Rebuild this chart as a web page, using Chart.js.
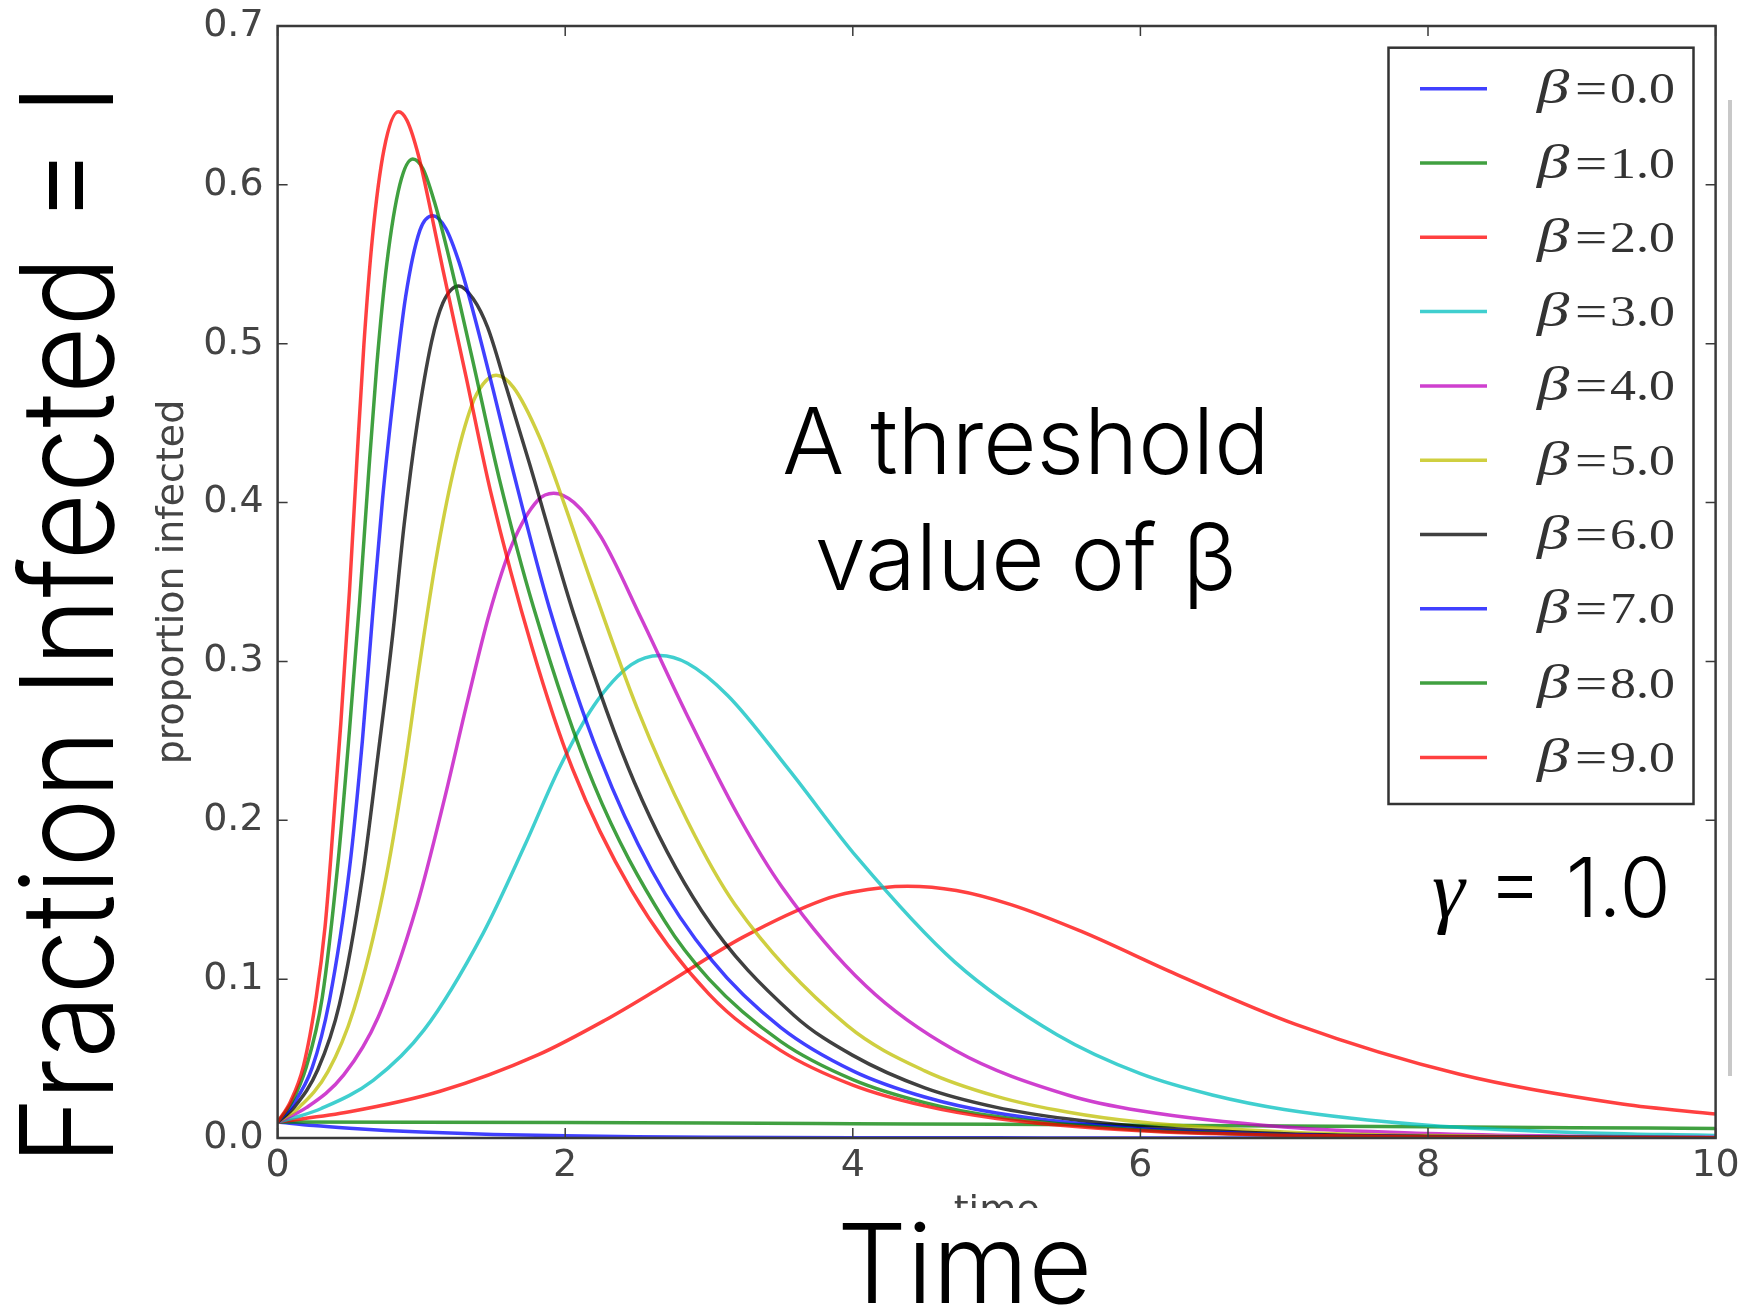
<!DOCTYPE html>
<html>
<head>
<meta charset="utf-8">
<script src="https://cdn.jsdelivr.net/npm/chart.js"></script>
<style>
  html, body { margin: 0; padding: 0; background: #fff; }
  #page { position: relative; width: 1739px; height: 1313px; overflow: hidden; background: #fff; }
  #sir { position: absolute; left: 0; top: 0; }
  .slide { position: absolute; font-family: Inter, "Helvetica Neue", Lato, sans-serif; font-weight: 300; color: #000; line-height: 1; white-space: nowrap; }
  #ylabel { left: 2px; top: 1165px; font-size: 129px; transform-origin: 0 0; }
  #xlabel { left: 833px; top: 1208px; font-size: 110px; background: #fff; padding: 0 4px; }
  #note { left: 776px; top: 383px; width: 500px; text-align: center; font-size: 92px; line-height: 116px; }
  #gamma { left: 1432px; top: 846px; font-size: 83px; }
  #gamma i { font-family: "Liberation Serif", serif; }
  #edge { position: absolute; left: 1728px; top: 100px; width: 4px; height: 976px; background: #c8c8c8; }
</style>
</head>
<body>
<div id="page">
  <canvas id="sir" width="1739" height="1313"></canvas>
  <div id="edge"></div>
  <div class="slide" id="ylabel">Fraction Infected = I</div>
  <div class="slide" id="note">A threshold<br>value of β</div>
  <div class="slide" id="gamma"><i>γ</i> = 1.0</div>
  <div class="slide" id="xlabel">Time</div>
</div>
<script>
// beta values of the ten curves (gamma = 1.0)
const betas = [0, 1, 2, 3, 4, 5, 6, 7, 8, 9];
// matplotlib classic colour cycle b g r c m y k
const lineColors = [
  "rgba(0,0,255,0.75)", "rgba(0,128,0,0.75)", "rgba(255,0,0,0.75)",
  "rgba(0,191,191,0.75)", "rgba(191,0,191,0.75)", "rgba(191,191,0,0.75)",
  "rgba(0,0,0,0.75)", "rgba(0,0,255,0.75)", "rgba(0,128,0,0.75)",
  "rgba(255,0,0,0.75)",
];

//time points and proportion infected
const t0 = [0, 0.25, 0.5, 0.75, 1, 1.5, 2, 2.5, 3, 4, 5, 6, 8, 10];
const i0 = [0.01, 0.0078, 0.0061, 0.0047, 0.0037, 0.0022, 0.0014, 0.0008, 0.0005, 0.0002, 0.0001, 0, 0, 0];

const t1 = [0, 1, 2, 3, 4, 5, 6, 7, 8, 9, 10];
const i1 = [0.01, 0.0099, 0.0097, 0.0094, 0.009, 0.0086, 0.0081, 0.0076, 0.0071, 0.0065, 0.006];

const t2 = [0, 0.5, 1.13, 1.81, 2.27, 2.64, 3.24, 3.8, 4.0, 4.38, 4.72, 5.1, 5.59, 6.25, 7.08, 8.22, 9.35, 10];
const i2 = [0.01, 0.0165, 0.0294, 0.0523, 0.0738, 0.0935, 0.1266, 0.1501, 0.1549, 0.1585, 0.1558, 0.1469, 0.13, 0.103, 0.0715, 0.0401, 0.0214, 0.0151];

const t3 = [0, 0.15, 0.3, 0.665, 1.02, 1.43, 1.72, 1.96, 2.2, 2.46, 2.66, 2.85, 3.13, 3.55, 4.03, 4.71, 5.42, 6, 6.5, 7, 8, 9, 10];
const i3 = [0.01, 0.0137, 0.0184, 0.0363, 0.0682, 0.129, 0.1844, 0.2331, 0.2723, 0.298, 0.3038, 0.2989, 0.2786, 0.2325, 0.1766, 0.1107, 0.065, 0.0405, 0.0271, 0.018, 0.008, 0.0035, 0.0016];

const t4 = [0, 0.2, 0.46, 0.7, 0.97, 1.16, 1.32, 1.47, 1.63, 1.81, 1.92, 2.06, 2.25, 2.53, 2.84, 3.2, 3.51, 4.09, 4.71, 5.5, 6, 7, 8, 9, 10];
const i4 = [0.01, 0.0191, 0.0397, 0.0762, 0.1467, 0.2133, 0.2748, 0.3292, 0.3735, 0.4015, 0.4059, 0.4001, 0.3782, 0.3268, 0.2676, 0.2035, 0.1577, 0.0958, 0.0552, 0.0269, 0.0171, 0.0069, 0.0028, 0.0011, 0.0004];

const t5 = [0, 0.15, 0.35, 0.53, 0.74, 0.88, 0.99, 1.1, 1.22, 1.35, 1.43, 1.52, 1.64, 1.82, 1.99, 2.17, 2.5, 2.85, 3.18, 3.96, 4.5, 5, 5.5, 6, 7, 8, 9, 10];
const i5 = [0.01, 0.0194, 0.0418, 0.0809, 0.1574, 0.2307, 0.2998, 0.3634, 0.4188, 0.4612, 0.4747, 0.4801, 0.4725, 0.4414, 0.4001, 0.3528, 0.2706, 0.1995, 0.147, 0.0709, 0.0423, 0.0262, 0.0162, 0.01, 0.0038, 0.0015, 0.0005, 0.0002];

const t6 = [0, 0.12, 0.28, 0.43, 0.59, 0.7, 0.8, 0.88, 0.97, 1.07, 1.15, 1.26, 1.36, 1.46, 1.59, 1.75, 2.06, 2.48, 2.95, 3.59, 4, 4.5, 5, 5.5, 6, 7, 8, 10];
const i6 = [0.01, 0.0199, 0.0431, 0.0841, 0.1645, 0.2422, 0.3165, 0.3861, 0.449, 0.501, 0.5258, 0.5364, 0.5283, 0.5104, 0.4727, 0.4251, 0.3296, 0.2241, 0.1429, 0.0773, 0.052, 0.0316, 0.0193, 0.0119, 0.0073, 0.0027, 0.001, 0.0002];

const t7 = [0, 0.1, 0.24, 0.36, 0.5, 0.59, 0.66, 0.73, 0.81, 0.89, 0.99, 1.08, 1.17, 1.26, 1.35, 1.5, 1.63, 1.89, 2.24, 2.6, 3.02, 3.5, 4, 4.5, 5, 6, 7, 8, 10];
const i7 = [0.01, 0.0203, 0.0441, 0.0864, 0.1696, 0.2505, 0.3285, 0.4024, 0.4706, 0.5294, 0.5715, 0.5806, 0.5725, 0.5518, 0.5236, 0.4706, 0.4227, 0.3337, 0.2397, 0.1687, 0.1118, 0.0695, 0.0423, 0.0258, 0.0157, 0.0058, 0.0022, 0.0008, 0.0001];

const t8 = [0, 0.1, 0.2, 0.31, 0.42, 0.5, 0.57, 0.63, 0.69, 0.76, 0.85, 0.94, 1.01, 1.09, 1.18, 1.35, 1.54, 1.78, 2.2, 2.69, 3, 3.5, 4, 4.5, 5, 6, 7, 8, 10];
const i8 = [0.01, 0.0229, 0.0449, 0.0881, 0.1734, 0.2567, 0.3374, 0.4146, 0.4867, 0.5508, 0.6001, 0.6163, 0.6103, 0.5895, 0.5588, 0.4922, 0.4156, 0.334, 0.2224, 0.1368, 0.1, 0.0607, 0.0368, 0.0223, 0.0135, 0.005, 0.0018, 0.0007, 0.0001];

const t9 = [0, 0.09, 0.18, 0.27, 0.33, 0.37, 0.44, 0.5, 0.55, 0.6, 0.66, 0.74, 0.84, 0.9, 0.98, 1.07, 1.15, 1.31, 1.48, 1.77, 2.05, 2.46, 3, 3.5, 4, 4.5, 5, 6, 7, 8, 10];
const i9 = [0.01, 0.023, 0.0454, 0.0894, 0.133, 0.1763, 0.2615, 0.3444, 0.4241, 0.4993, 0.5673, 0.6223, 0.646, 0.6405, 0.6183, 0.5815, 0.5465, 0.4794, 0.4074, 0.3086, 0.2326, 0.1561, 0.0906, 0.055, 0.0333, 0.0202, 0.0123, 0.0045, 0.0017, 0.0006, 0.0001];

const times = [t0, t1, t2, t3, t4, t5, t6, t7, t8, t9];
const infected = [i0, i1, i2, i3, i4, i5, i6, i7, i8, i9];

//axis ranges
const timeMax = 10;
const infectedMax = 0.7;

const tickFont = { family: "DejaVu Sans", size: 38 };
const labelFont = { family: "DejaVu Sans", size: 38 };

//big slide label: squeeze it to the length it has on the slide
const ylabel = document.getElementById("ylabel");
const squeeze = 1081 / ylabel.getBoundingClientRect().width;
ylabel.style.transform = "rotate(-90deg) scaleX(" + squeeze + ")";

//spines and inward ticks like matplotlib
const framePlugin = {
  id: "frame",
  afterDatasetsDraw(chart) {
    const { ctx, chartArea: a, scales } = chart;
    ctx.save();
    ctx.strokeStyle = "#3a3a3a";
    ctx.lineWidth = 1.5;
    ctx.beginPath();
    scales.x.ticks.forEach((t) => {
      const px = scales.x.getPixelForValue(t.value);
      ctx.moveTo(px, a.bottom);
      ctx.lineTo(px, a.bottom - 10);
      ctx.moveTo(px, a.top);
      ctx.lineTo(px, a.top + 10);
    });
    scales.y.ticks.forEach((t) => {
      const py = scales.y.getPixelForValue(t.value);
      ctx.moveTo(a.left, py);
      ctx.lineTo(a.left + 10, py);
      ctx.moveTo(a.right, py);
      ctx.lineTo(a.right - 10, py);
    });
    ctx.stroke();
    ctx.lineWidth = 2.5;
    ctx.strokeRect(a.left, a.top, a.right - a.left, a.bottom - a.top);
    ctx.restore();
  },
};

//draw text stretched sideways (the legend uses wide math glyphs)
function wideText(ctx, text, x, y, font, stretch) {
  ctx.save();
  ctx.font = font;
  ctx.translate(x, y);
  ctx.scale(stretch, 1);
  ctx.fillText(text, 0, 0);
  ctx.restore();
}

//boxed legend in the upper right
const legendPlugin = {
  id: "betaLegend",
  afterDraw(chart) {
    const ctx = chart.ctx;
    const boxX = 1388.5, boxY = 47.7, boxW = 305, boxH = 756.3;
    const rowY = 88.7, rowStep = 74.3;
    ctx.save();
    ctx.fillStyle = "#fff";
    ctx.fillRect(boxX, boxY, boxW, boxH);
    ctx.strokeStyle = "#333";
    ctx.lineWidth = 2.5;
    ctx.strokeRect(boxX, boxY, boxW, boxH);
    chart.data.datasets.forEach((ds, k) => {
      const yy = rowY + k * rowStep;
      ctx.strokeStyle = ds.borderColor;
      ctx.lineWidth = 3.5;
      ctx.beginPath();
      ctx.moveTo(1420, yy);
      ctx.lineTo(1487, yy);
      ctx.stroke();
      ctx.fillStyle = "#333";
      ctx.textBaseline = "alphabetic";
      ctx.textAlign = "left";
      wideText(ctx, "β", 1537, yy + 14.5, 'italic 48px "Liberation Serif"', 1.35);
      wideText(ctx, "=", 1575, yy + 14.5, '44px "Liberation Serif"', 1.3);
      wideText(ctx, betas[k].toFixed(1), 1610, yy + 14.5, '44px "Liberation Serif"', 1.18);
    });
    ctx.restore();
  },
};

const datasets = betas.map((b, k) => ({
  label: "β=" + b.toFixed(1),
  data: times[k].map((t, j) => ({ x: t, y: infected[k][j] })),
  borderColor: lineColors[k],
  backgroundColor: lineColors[k],
  borderWidth: 3.5,
  pointRadius: 0,
  fill: false,
  cubicInterpolationMode: "monotone",
  order: 10 - k,
}));

const sirChart = new Chart(document.getElementById("sir"), {
  type: "line",
  data: { datasets: datasets },
  options: {
    responsive: false,
    animation: false,
    events: [],
    layout: { padding: { left: 0, right: 23.4, top: 26, bottom: 0 } },
    scales: {
      x: {
        type: "linear",
        min: 0,
        max: timeMax,
        grid: { display: false, drawTicks: false },
        border: { display: false },
        ticks: { stepSize: 2, font: tickFont, color: "#444", padding: 5, maxRotation: 0 },
        title: { display: true, text: "time", font: labelFont, color: "#444", padding: { top: 0, bottom: 78 } },
        afterFit: (s) => {
          s.height = 175;
          s.paddingLeft = 0;
          s.paddingRight = 0;
        },
      },
      y: {
        min: 0,
        max: infectedMax,
        grid: { display: false, drawTicks: false },
        border: { display: false },
        ticks: { stepSize: 0.1, font: tickFont, color: "#444", padding: 14, callback: (v) => v.toFixed(1) },
        title: { display: true, text: "proportion infected", font: labelFont, color: "#444", padding: { top: 150.7, bottom: 0 } },
        afterFit: (s) => {
          s.width = 277.6;
          s.paddingTop = 0;
          s.paddingBottom = 0;
        },
      },
    },
    plugins: {
      legend: { display: false },
      tooltip: { enabled: false },
    },
  },
  plugins: [framePlugin, legendPlugin],
});
</script>
</body>
</html>
